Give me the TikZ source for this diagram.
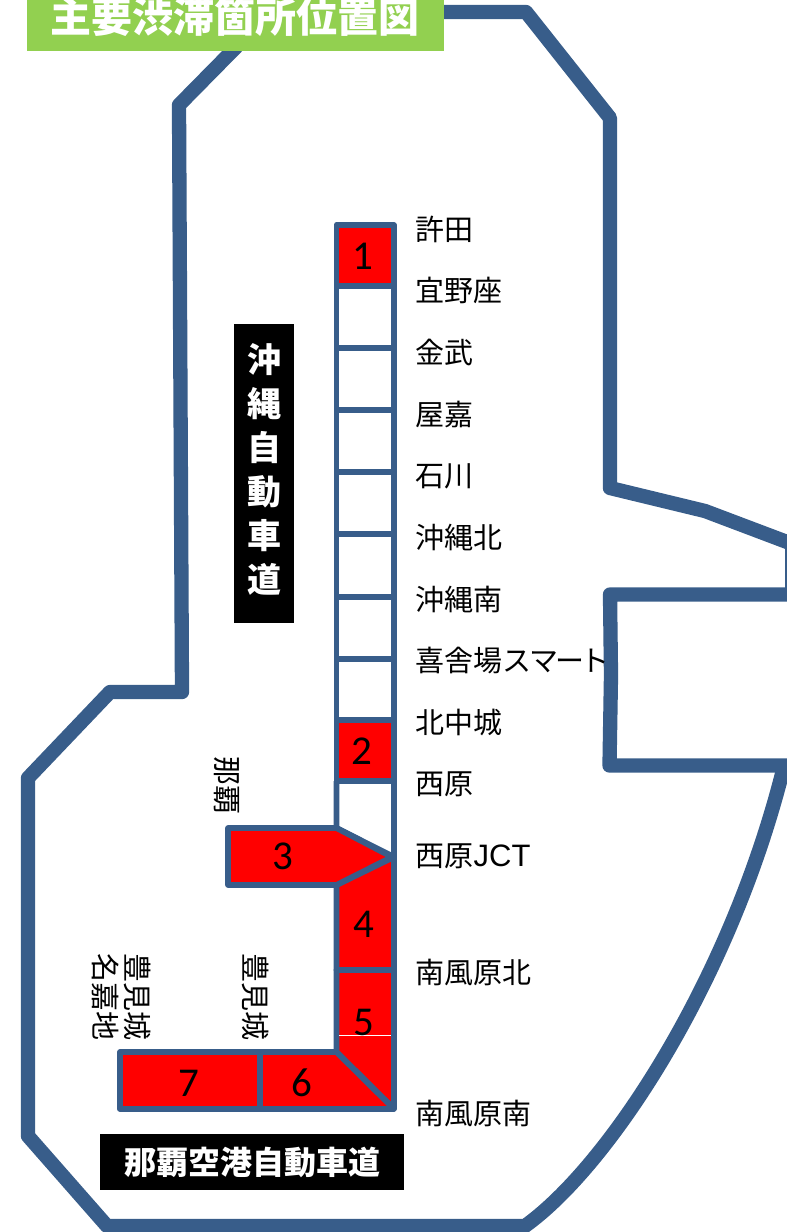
\documentclass[tikz,border=0pt]{standalone}
\usepackage{fontspec}
\setmainfont{Noto Sans CJK JP}
\newfontfamily\digitfont{Carlito}
\newfontfamily\latinfont{Liberation Sans}
\definecolor{roadblue}{HTML}{385D8A}
\definecolor{titlegreen}{HTML}{92D050}
\definecolor{jamred}{HTML}{FF0000}
\tikzset{
  outline/.style={draw=roadblue,line width=14.3pt,line join=round},
  roadline/.style={draw=roadblue,line width=5.8pt,line join=round},
  jam/.style={fill=jamred,draw=roadblue,line width=5.8pt,line join=round},
  place/.style={anchor=west,inner sep=0pt,font=\fontsize{29}{30}\selectfont,text=black},
  vplace/.style={rotate=-90,inner sep=0pt,font=\fontsize{29}{31}\selectfont,text=black,align=left},
  num/.style={inner sep=0pt,font=\digitfont\fontsize{41}{41}\selectfont,text=black},
  blacklabel/.style={fill=black,text=white,inner sep=0pt,font=\bfseries},
}
\begin{document}
\begin{tikzpicture}[x=1pt,y=-1pt]
\useasboundingbox (0,0) rectangle (787,1232);
\clip (0,0) rectangle (787,1232);
% outer outline
\draw[outline] (245,38) -- (179,105) -- (182,692) -- (110,692) -- (28,778) -- (28,1136) -- (107,1226) -- (525,1226)
  .. controls (610,1165) and (730,980) .. (783,770);
\draw[outline] (440,12) -- (526,12) -- (610,118) -- (610,488) -- (705,511) -- (795,545);
\draw[outline] (795,594.5) -- (610,594.5) -- (611,675) -- (609.5,765.5) -- (795,765.5);
\draw[roadblue,line width=3pt] (786.5,545) -- (786.5,595);
% title
\node[fill=titlegreen,minimum width=417pt,minimum height=60pt,inner sep=0pt,anchor=south west] (titlebox) at (27,51) {};
\node[text=white,inner sep=0pt,font=\bfseries\fontsize{41}{44}\selectfont] (title) at (235,17) {主要渋滞箇所位置図};
% road segments
\draw[roadline] (336.5,286) rectangle (394,720);
\foreach \yy in {348,410,472,534,597,659} \draw[roadline] (336.5,\yy) -- (394,\yy);
\draw[roadline] (336.5,781) -- (336.5,828) -- (394,857);
\draw[roadline] (394,781) -- (394,857);
% jam segments
\draw[jam] (336.5,225) rectangle (394,286);
\draw[jam] (336.5,720) rectangle (394,781);
\draw[jam] (336.5,885) -- (394,857) -- (394,970) -- (336.5,970) -- cycle;
\draw[jam] (336.5,970) -- (394,970) -- (394,1109) -- (336.5,1052) -- cycle;
\draw[jam] (228,828) -- (336.5,828) -- (392,857) -- (336.5,885) -- (228,885) -- cycle;
\draw[jam] (260,1052) -- (336.5,1052) -- (394,1109) -- (260,1109) -- cycle;
\draw[jam] (120,1052) rectangle (260,1109);
\draw[white,line width=0.5pt] (339,1035) -- (391,1035);
% numbers
\node[num] (n1) at (363,256) {1};
\node[num] (n2) at (362,751) {2};
\node[num] (n3) at (283,856) {3};
\node[num] (n4) at (364,924) {4};
\node[num] (n5) at (364,1022) {5};
\node[num] (n6) at (302,1083) {6};
\node[num] (n7) at (189,1083) {7};
% place names
\node[place] (p1) at (415.5,229) {許田};
\node[place] (p2) at (415.5,290) {宜野座};
\node[place] (p3) at (415.5,352) {金武};
\node[place] (p4) at (415.5,414) {屋嘉};
\node[place] (p5) at (415.5,476) {石川};
\node[place] (p6) at (415.5,538) {沖縄北};
\node[place] (p7) at (415.5,599) {沖縄南};
\node[place] (p8) at (415.5,661) {喜舎場ス\kern-2.5pt マ\kern-3pt ー\kern-3.5pt ト};
\node[place] (p9) at (415.5,722) {北中城};
\node[place] (p10) at (415.5,784) {西原};
\node[place] (p11) at (415.5,856) {西原{\latinfont\fontsize{31}{31}\selectfont JCT}};
\node[place] (p12) at (415.5,972) {南風原北};
\node[place] (p13) at (415.5,1113) {南風原南};
% rotated names
\node[vplace,anchor=west] (v1) at (227,756) {那覇};
\node[vplace,anchor=west] (v2) at (256,953) {豊見城};
\node[vplace,anchor=west] (v3) at (122,953) {豊見城\\[1pt]名嘉地};
% black labels
\node[blacklabel,minimum width=60pt,minimum height=299pt] (okinawa) at (264,473.5) {};
\node[text=white,inner sep=0pt,align=center,font=\bfseries\fontsize{34}{44}\selectfont] (okinawatext) at (264,469.5) {沖\\縄\\自\\動\\車\\道};
\node[blacklabel,minimum width=304pt,minimum height=56pt,font=\bfseries\fontsize{32}{34}\selectfont] (naha) at (252,1162) {那覇空港自動車道};
\end{tikzpicture}
\end{document}
